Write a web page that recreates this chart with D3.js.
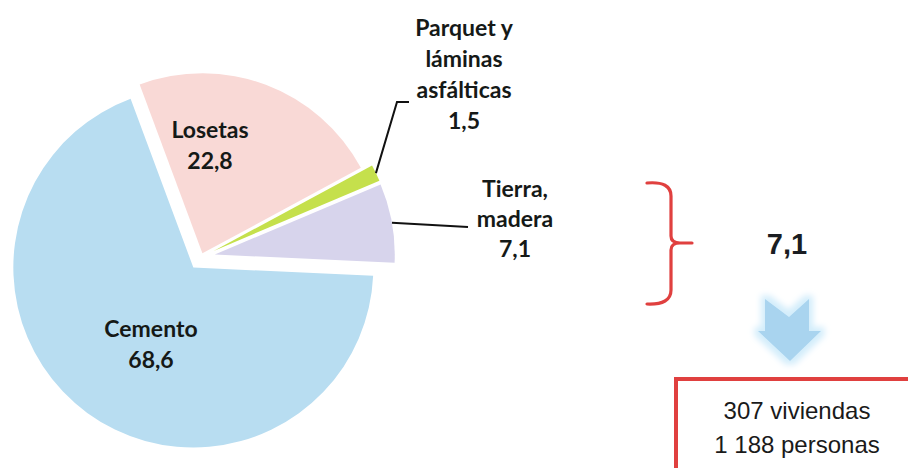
<!DOCTYPE html>
<html>
<head>
<meta charset="utf-8">
<script src="https://cdn.jsdelivr.net/npm/d3@7"></script>
<style>
  body { margin: 0; background: #fff; }
  svg { display: block; }
</style>
</head>
<body>
<script>
const categories = ['Losetas', 'Parquet y láminas asfálticas', 'Tierra, madera', 'Cemento'];
const values = [22.8, 1.5, 7.1, 68.6];
const valueLabels = ['22,8', '1,5', '7,1', '68,6'];
const totalLabel = '7,1';
const summaryLines = ['307 viviendas', '1 188 personas'];

const width = 908;
const height = 468;
const radius = 180;
const cx = 201;
const cy = 257;

const sliceColors = ['#f9d9d6', '#c5e04c', '#d7d4ec', '#b8ddf1'];
const explode = [4, 14, 14, 13];

// label lines and positions (text only)
const labelLayout = [
  { lines: ['Losetas', '22,8'], x: 210, y: 138, dy: 31 },
  { lines: ['Parquet y', 'láminas', 'asfálticas', '1,5'], x: 464, y: 36, dy: 31 },
  { lines: ['Tierra,', 'madera', '7,1'], x: 515, y: 197, dy: 30 },
  { lines: ['Cemento', '68,6'], x: 151, y: 337, dy: 31 },
];

function main() {
  const svg = d3.select('body').append('svg').attr('width', width).attr('height', height);

  const defs = svg.append('defs');
  const glow = defs.append('filter').attr('id', 'glow').attr('x', '-50%').attr('y', '-50%').attr('width', '200%').attr('height', '200%');
  glow.append('feMorphology').attr('in', 'SourceAlpha').attr('operator', 'dilate').attr('radius', 4).attr('result', 'd');
  glow.append('feGaussianBlur').attr('in', 'd').attr('stdDeviation', 3).attr('result', 'b');
  glow.append('feFlood').attr('flood-color', '#d3edfb');
  glow.append('feComposite').attr('in2', 'b').attr('operator', 'in').attr('result', 'g');
  const merge = glow.append('feMerge');
  merge.append('feMergeNode').attr('in', 'g');
  merge.append('feMergeNode').attr('in', 'SourceGraphic');

  drawPie(svg);
  drawRight(svg);
}

function drawPie(svg) {
  const start = -20.4 * Math.PI / 180;
  const pie = d3.pie().sort(null).value(d => d).startAngle(start).endAngle(start + 2 * Math.PI);
  const arcs = pie(values);
  const arc = d3.arc().innerRadius(0).outerRadius(radius);

  const g = svg.append('g').attr('transform', `translate(${cx}, ${cy})`);

  const offset = (d, i) => {
    const mid = (d.startAngle + d.endAngle) / 2;
    return [explode[i] * Math.sin(mid), -explode[i] * Math.cos(mid)];
  };

  g.selectAll('path.slice')
    .data(arcs)
    .enter()
    .append('path')
    .attr('class', 'slice')
    .attr('transform', (d, i) => `translate(${offset(d, i)})`)
    .attr('d', arc)
    .attr('fill', (d, i) => sliceColors[i]);

  // leader lines for the two small slices
  const outer = (d, i) => {
    const mid = (d.startAngle + d.endAngle) / 2;
    const [ox, oy] = offset(d, i);
    return [cx + ox + radius * Math.sin(mid), cy + oy - radius * Math.cos(mid)];
  };
  const p1 = outer(arcs[1], 1);
  const p2 = outer(arcs[2], 2);
  const line = d3.line();
  svg.append('path')
    .attr('d', line([p1, [397, 102], [409, 102]]))
    .attr('fill', 'none').attr('stroke', '#111').attr('stroke-width', 2);
  svg.append('path')
    .attr('d', line([p2, [468, 227]]))
    .attr('fill', 'none').attr('stroke', '#111').attr('stroke-width', 2);

  labelLayout.forEach(l => {
    const t = svg.append('text')
      .attr('text-anchor', 'middle')
      .attr('font-family', 'Lato, "Open Sans", sans-serif')
      .attr('font-weight', 'bold')
      .attr('font-size', 23)
      .attr('fill', '#151917');
    l.lines.forEach((s, k) => {
      t.append('tspan').attr('x', l.x).attr('y', l.y + k * l.dy).text(s);
    });
  });
}

function drawRight(svg) {
  // brace
  svg.append('path')
    .attr('d', 'M647,183 Q671,181 671,196 L671,236 Q671,243 680,243 L692,243 M680,243 Q671,243 671,250 L671,290 Q671,305 647,304')
    .attr('fill', 'none')
    .attr('stroke', '#e0403f')
    .attr('stroke-width', 3.2)
    .attr('stroke-linecap', 'round');

  svg.append('text')
    .attr('x', 787)
    .attr('y', 254)
    .attr('text-anchor', 'middle')
    .attr('font-family', '"Liberation Sans", Arial, sans-serif')
    .attr('font-weight', 'bold')
    .attr('font-size', 29)
    .attr('fill', '#1a1d22')
    .text(totalLabel);

  // down arrow
  svg.append('path')
    .attr('d', 'M765,299 L789,317 L809,299 L809,331 L821,331 L790,361 L758,331 L765,331 Z')
    .attr('fill', '#a9d4ef')
    .attr('filter', 'url(#glow)');

  svg.append('rect')
    .attr('x', 676)
    .attr('y', 379)
    .attr('width', 260)
    .attr('height', 120)
    .attr('fill', '#fff')
    .attr('stroke', '#e0403f')
    .attr('stroke-width', 4);

  svg.selectAll('text.summary')
    .data(summaryLines)
    .enter()
    .append('text')
    .attr('class', 'summary')
    .attr('x', 797)
    .attr('y', (_, i) => 419 + i * 34)
    .attr('text-anchor', 'middle')
    .attr('font-family', '"Liberation Sans", Arial, sans-serif')
    .attr('font-size', 24)
    .attr('fill', '#1a1a1a')
    .text(d => d);
}

main();
</script>
</body>
</html>
